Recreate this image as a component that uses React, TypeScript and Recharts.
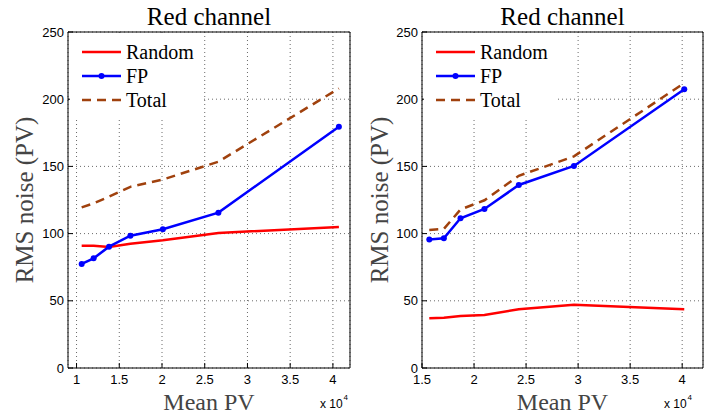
import React from 'react';
import { LineChart, Line, XAxis, YAxis, CartesianGrid, Legend } from 'recharts';

// Mean PV (x 10^4) and RMS noise (PV), left panel
const leftMeanPV = [1.06, 1.2, 1.38, 1.63, 2.01, 2.66, 4.07];
const leftRandom = [91, 91, 90, 92.5, 95, 100.5, 105];
const leftFP = [77.4, 81.6, 90.3, 98.4, 103.2, 115.6, 179.5];
const leftTotal = [119.5, 122.5, 127.5, 134.8, 140.2, 153.5, 208];

// right panel
const rightMeanPV = [1.57, 1.71, 1.87, 2.1, 2.43, 2.96, 4.02];
const rightRandom = [37, 37.4, 38.6, 39.4, 43.7, 47, 43.8];
const rightFP = [95.7, 96.5, 111.4, 118.3, 136.2, 150.3, 207.4];
const rightTotal = [102.7, 103.5, 117.9, 124.8, 143, 157.5, 212];

const xTicksLeft = [1, 1.5, 2, 2.5, 3, 3.5, 4];
const xTicksRight = [1.5, 2, 2.5, 3, 3.5, 4];
const yTicks = [0, 50, 100, 150, 200, 250];

const series = [
  { key: 'random', name: 'Random', color: '#ff0000', dash: undefined as string | undefined, dot: false },
  { key: 'fp', name: 'FP', color: '#0000ff', dash: undefined as string | undefined, dot: true },
  { key: 'total', name: 'Total', color: '#a0410d', dash: '9 6', dot: false },
];

const buildRows = (x: number[], random: number[], fp: number[], total: number[]) =>
  x.map((v, i) => ({ x: v, random: random[i], fp: fp[i], total: total[i] }));

const leftData = buildRows(leftMeanPV, leftRandom, leftFP, leftTotal);
const rightData = buildRows(rightMeanPV, rightRandom, rightFP, rightTotal);

const serif = '"Liberation Serif", "Times New Roman", serif';
const sans = '"Liberation Sans", Arial, sans-serif';

const LegendBox = () => (
  <div style={{ width: 132, height: 84, background: '#fff', position: 'relative' }}>
    {series.map((s, i) => (
      <div
        key={s.key}
        style={{ position: 'absolute', left: 0, top: 7 + i * 24, height: 24, display: 'flex', alignItems: 'center' }}
      >
        <svg width={56} height={24}>
          <line x1={12} x2={51} y1={12} y2={12} stroke={s.color} strokeWidth={2.5} strokeDasharray={s.dash} />
          {s.dot && <circle cx={31.5} cy={12} r={3} fill={s.color} />}
        </svg>
        <span style={{ fontFamily: serif, fontSize: 20, lineHeight: '24px', color: '#000' }}>{s.name}</span>
      </div>
    ))}
  </div>
);

interface PanelProps {
  data: { x: number; random: number; fp: number; total: number }[];
  xDomain: [number, number];
  xTicks: number[];
  yAxisWidth: number;
  rightMargin: number;
  legendLeft: number;
}

const Panel: React.FC<PanelProps> = ({ data, xDomain, xTicks, yAxisWidth, rightMargin, legendLeft }) => (
  <LineChart width={352} height={416} data={data} margin={{ top: 31, right: rightMargin, bottom: 0, left: 0 }}>
    <CartesianGrid stroke="#6a6a6a" strokeDasharray="1 3" />
    <XAxis
      dataKey="x"
      type="number"
      domain={xDomain}
      ticks={xTicks}
      interval={0}
      allowDataOverflow
      height={48}
      tickSize={-5}
      tickMargin={12}
      stroke="#000"
      tick={{ fill: '#000', fontSize: 13, fontFamily: sans }}
    />
    <XAxis
      xAxisId="top"
      orientation="top"
      dataKey="x"
      type="number"
      domain={xDomain}
      ticks={xTicks}
      interval={0}
      allowDataOverflow
      height={1}
      tickSize={-5}
      tick={false}
      stroke="#000"
    />
    <YAxis
      domain={[0, 250]}
      ticks={yTicks}
      interval={0}
      allowDataOverflow
      width={yAxisWidth}
      tickSize={-5}
      tickMargin={9}
      stroke="#000"
      tick={{ fill: '#000', fontSize: 13, fontFamily: sans }}
    />
    <YAxis
      yAxisId="right"
      orientation="right"
      domain={[0, 250]}
      ticks={yTicks}
      interval={0}
      width={1}
      tickSize={-5}
      tick={false}
      stroke="#000"
    />
    <Legend
      layout="vertical"
      align="center"
      verticalAlign="middle"
      wrapperStyle={{ left: legendLeft, top: 33, width: 132, height: 84 }}
      content={() => <LegendBox />}
    />
    {series.map((s) => (
      <Line
        key={s.key}
        dataKey={s.key}
        name={s.name}
        type="linear"
        stroke={s.color}
        strokeWidth={2.5}
        strokeDasharray={s.dash}
        dot={s.dot ? { r: 3, fill: s.color, stroke: s.color, strokeWidth: 0 } : false}
        isAnimationActive={false}
      />
    ))}
  </LineChart>
);

export default function App() {
  return (
    <div style={{ position: 'absolute', left: 0, top: 0, width: 704, height: 416, background: '#fff' }}>
      <div style={{ position: 'absolute', left: 0, top: 0 }}>
        <Panel data={leftData} xDomain={[0.9, 4.2]} xTicks={xTicksLeft} yAxisWidth={68} rightMargin={1} legendLeft={70} />
      </div>
      <div style={{ position: 'absolute', left: 352, top: 0 }}>
        <Panel data={rightData} xDomain={[1.5, 4.2]} xTicks={xTicksRight} yAxisWidth={70} rightMargin={0} legendLeft={72} />
      </div>
      <svg width={704} height={416} style={{ position: 'absolute', left: 0, top: 0, pointerEvents: 'none' }}>
        <text x={209} y={25} textAnchor="middle" fontFamily={serif} fontSize={25} fill="#000">Red channel</text>
        <text x={562.5} y={25} textAnchor="middle" fontFamily={serif} fontSize={25} fill="#000">Red channel</text>
        <text x={209} y={410} textAnchor="middle" fontFamily={serif} fontSize={24} fill="#444">Mean PV</text>
        <text x={562.5} y={410} textAnchor="middle" fontFamily={serif} fontSize={24} fill="#444">Mean PV</text>
        <text x={33} y={200} textAnchor="middle" fontFamily={serif} fontSize={25} fill="#444" transform="rotate(-90 33 200)">RMS noise (PV)</text>
        <text x={388} y={200} textAnchor="middle" fontFamily={serif} fontSize={25} fill="#444" transform="rotate(-90 388 200)">RMS noise (PV)</text>
        <text x={320} y={408} fontFamily={sans} fontSize={12} fill="#000">x 10</text>
        <text x={343.5} y={400} fontFamily={sans} fontSize={8} fill="#000">4</text>
        <text x={664} y={408} fontFamily={sans} fontSize={12} fill="#000">x 10</text>
        <text x={687.5} y={400} fontFamily={sans} fontSize={8} fill="#000">4</text>
      </svg>
    </div>
  );
}
